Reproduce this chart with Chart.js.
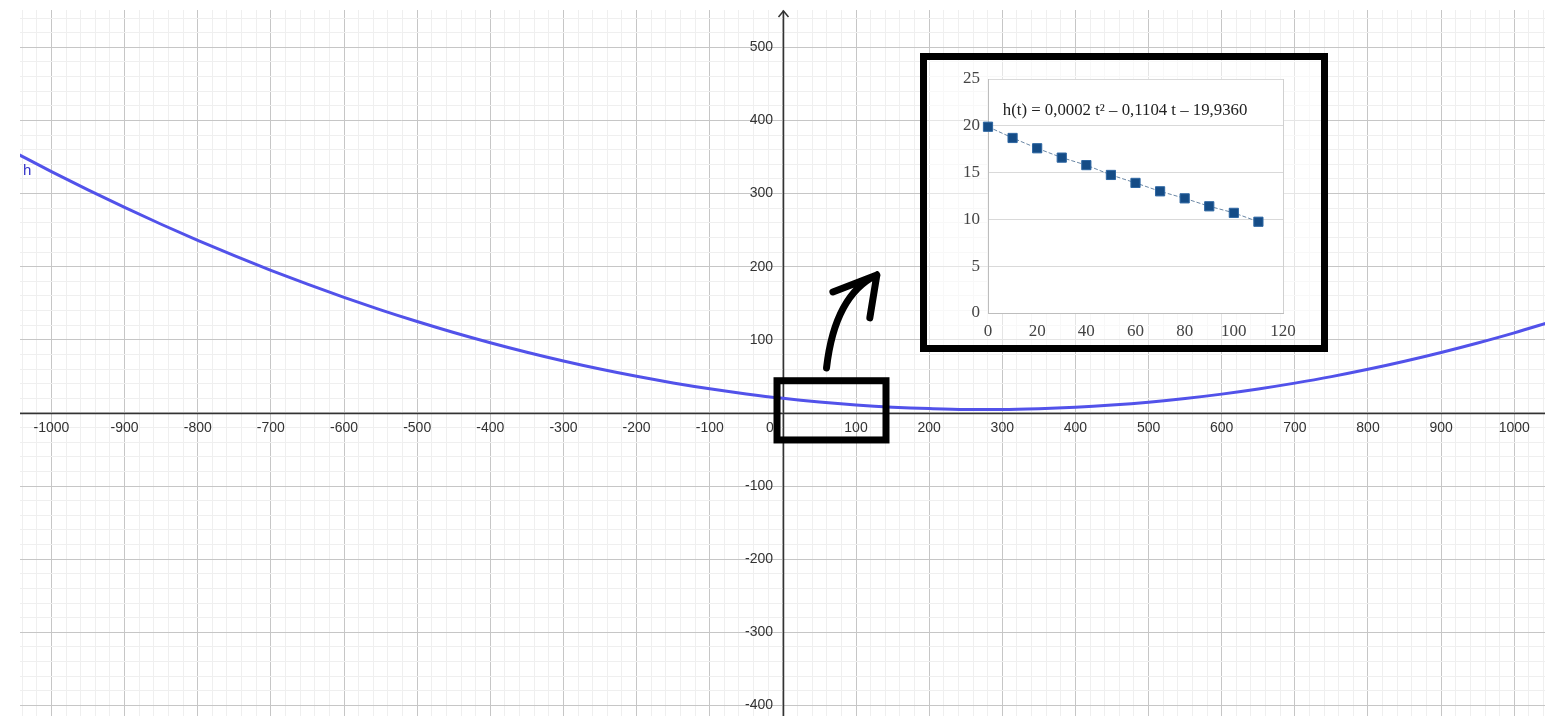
<!DOCTYPE html>
<html>
<head>
<meta charset="utf-8">
<script src="https://cdn.jsdelivr.net/npm/chart.js@4.4.1/dist/chart.umd.min.js"></script>
<style>
html, body { margin: 0; padding: 0; background: #fff; }
#wrap { position: relative; width: 1545px; height: 716px; }
canvas { display: block; }
#inset { position: absolute; left: 920px; top: 53px; width: 408px; height: 299px;
         border: 7px solid #000; box-sizing: border-box; background: rgba(255,255,255,0.55); }
</style>
</head>
<body>
<div id="wrap">
  <canvas id="mainChart" width="1545" height="716"></canvas>
  <div id="inset"><canvas id="insetChart" width="394" height="285"></canvas></div>
</div>
<script>
// big graph: h(t) every 50 units
const curveT = [-1050, -1000, -950, -900, -850, -800, -750, -700, -650, -600, -550, -500, -450, -400, -350, -300,
                -250, -200, -150, -100, -50, 0, 50, 100, 150, 200, 250, 300, 350, 400, 450, 500,
                550, 600, 650, 700, 750, 800, 850, 900, 950, 1000, 1050];
const curveH = [356, 330, 305, 281, 258, 236, 215, 195, 176, 158, 141, 125, 110, 96, 83, 71,
                60, 50, 41, 33, 26, 19.9, 14.9, 10.9, 7.9, 5.9, 4.8, 4.8, 5.8, 7.8, 10.8, 14.7,
                19.7, 25.7, 32.7, 40.7, 49.6, 59.6, 70.6, 82.6, 95.6, 109.5, 124.5];

// inset: measured points
const sampleT = [0, 10, 20, 30, 40, 50, 60, 70, 80, 90, 100, 110];
const sampleH = [19.9, 18.7, 17.6, 16.6, 15.8, 14.75, 13.9, 13.0, 12.25, 11.4, 10.7, 9.75];
const insetEquation = "h(t) = 0,0002 t\u00B2 \u2013 0,1104 t \u2013 19,9360";

const gridColor = c => c.tick.value % 100 === 0 ? '#c6c6c6' : '#efefef';
const tickLabel = v => (v % 100 === 0 && v !== 0) ? String(v) : '';
// y labels sit right-aligned on the axis; pad them off it with spaces
const yTickLabel = v => (v % 100 === 0 && v !== 0) ? String(v) + '\u2002\u2009' : '';
// axes sit inside the plot, so they should take no room
const noRoom = s => {
  s.paddingLeft = s.paddingRight = s.paddingTop = s.paddingBottom = 0;
  if (s.isHorizontal()) s.height = 0; else s.width = 0;
};

const geoExtras = {
  id: 'geoExtras',
  // the two axes, on top of the grid
  beforeDatasetsDraw(chart) {
    const { ctx, scales: { x, y }, chartArea: a } = chart;
    const ax = Math.round(x.getPixelForValue(0)) + 0.5;
    const ay = Math.round(y.getPixelForValue(0)) + 0.5;
    ctx.save();
    ctx.strokeStyle = '#333';
    ctx.lineWidth = 1.5;
    ctx.beginPath();
    ctx.moveTo(a.left, ay); ctx.lineTo(a.right, ay);
    ctx.moveTo(ax, a.top + 1); ctx.lineTo(ax, a.bottom);
    ctx.stroke();
    // arrow head on the vertical axis
    ctx.beginPath();
    ctx.moveTo(ax - 5, a.top + 7);
    ctx.lineTo(ax, a.top + 1);
    ctx.lineTo(ax + 5, a.top + 7);
    ctx.stroke();
    ctx.restore();
  },
  // zoom box, hand drawn arrow and labels, placed in data units
  afterDatasetsDraw(chart) {
    const { ctx, scales: { x, y }, chartArea } = chart;
    ctx.save();
    ctx.strokeStyle = '#000';
    ctx.lineWidth = 7;
    const bx0 = x.getPixelForValue(-8), bx1 = x.getPixelForValue(141);
    const by0 = y.getPixelForValue(44), by1 = y.getPixelForValue(-37);
    ctx.strokeRect(bx0, by0, bx1 - bx0, by1 - by0);
    ctx.lineCap = 'round';
    ctx.lineJoin = 'round';
    ctx.beginPath();
    ctx.moveTo(x.getPixelForValue(59.7), y.getPixelForValue(61.5));
    ctx.quadraticCurveTo(x.getPixelForValue(71.1), y.getPixelForValue(161.3),
                         x.getPixelForValue(128.5), y.getPixelForValue(188.7));
    ctx.moveTo(x.getPixelForValue(68.4), y.getPixelForValue(165.4));
    ctx.lineTo(x.getPixelForValue(128.5), y.getPixelForValue(188.7));
    ctx.lineTo(x.getPixelForValue(118.9), y.getPixelForValue(129.9));
    ctx.stroke();
    ctx.font = '14px "Liberation Sans", Arial, sans-serif';
    ctx.fillStyle = '#333';
    ctx.textAlign = 'center';
    ctx.textBaseline = 'middle';
    ctx.fillText('0', x.getPixelForValue(0) - 13, y.getPixelForValue(0) + 15);
    ctx.font = '15px "Liberation Sans", Arial, sans-serif';
    ctx.fillStyle = '#3535c8';
    ctx.textAlign = 'left';
    ctx.fillText('h', chartArea.left + 3, 171);
    ctx.restore();
  }
};

new Chart(document.getElementById('mainChart'), {
  type: 'line',
  data: {
    datasets: [{
      label: 'h',
      data: curveT.map((t, i) => ({ x: t, y: curveH[i] })),
      borderColor: '#5252ea',
      borderWidth: 3,
      pointRadius: 0,
      cubicInterpolationMode: 'monotone',
      fill: false
    }]
  },
  options: {
    responsive: false,
    animation: false,
    devicePixelRatio: 1,
    layout: { autoPadding: false, padding: { left: 20, top: 10, right: 0, bottom: 0 } },
    plugins: { legend: { display: false }, tooltip: { enabled: false } },
    scales: {
      x: {
        type: 'linear', position: { y: 0 }, min: -1043, max: 1042,
        ticks: { stepSize: 20, autoSkip: false, maxRotation: 0, minRotation: 0, includeBounds: false,
                 padding: 7, color: '#333', font: { family: 'Liberation Sans', size: 14 }, callback: tickLabel },
        grid: { drawTicks: false, color: gridColor },
        border: { display: false },
        afterFit: noRoom
      },
      y: {
        type: 'linear', position: { x: 0 }, min: -414.5, max: 551,
        ticks: { stepSize: 20, autoSkip: false, includeBounds: false,
                 padding: 8, color: '#333', font: { family: 'Liberation Sans', size: 14 }, callback: yTickLabel },
        grid: { drawTicks: false, color: gridColor },
        border: { display: false },
        afterFit: noRoom
      }
    }
  },
  plugins: [geoExtras]
});

const insetExtras = {
  id: 'insetExtras',
  beforeDraw(chart) {
    const { ctx, chartArea: a } = chart;
    ctx.save();
    ctx.fillStyle = '#fff';
    ctx.fillRect(a.left, a.top, a.right - a.left, a.bottom - a.top);
    ctx.restore();
  },
  afterDraw(chart) {
    const { ctx, scales: { x, y } } = chart;
    ctx.save();
    ctx.font = '16.8px "Liberation Serif", "Times New Roman", serif';
    ctx.fillStyle = '#222';
    ctx.textAlign = 'left';
    ctx.textBaseline = 'middle';
    ctx.fillText(insetEquation, x.getPixelForValue(6), y.getPixelForValue(21.6));
    ctx.restore();
  }
};

new Chart(document.getElementById('insetChart'), {
  type: 'line',
  data: {
    datasets: [{
      data: sampleT.map((t, i) => ({ x: t, y: sampleH[i] })),
      borderColor: '#6a87a5',
      borderWidth: 1,
      borderDash: [4, 2],
      pointStyle: 'rect',
      pointRadius: 6.5,
      pointBackgroundColor: '#154c86',
      pointBorderColor: '#2d66a2',
      pointBorderWidth: 1,
      tension: 0,
      clip: false,
      fill: false
    }]
  },
  options: {
    responsive: false,
    animation: false,
    devicePixelRatio: 1,
    layout: { padding: { left: 16, top: 19, right: 38, bottom: 0 } },
    plugins: { legend: { display: false }, tooltip: { enabled: false } },
    scales: {
      x: {
        type: 'linear', min: 0, max: 120,
        ticks: { stepSize: 20, maxRotation: 0, padding: 8, color: '#444',
                 font: { family: 'Liberation Serif', size: 17 } },
        grid: { drawTicks: false, color: c => c.tick.value === 120 ? '#d0d0d0' : 'rgba(0,0,0,0)' },
        border: { color: '#bdbdbd' },
        afterFit: s => { s.height = 32; }
      },
      y: {
        type: 'linear', min: 0, max: 25,
        ticks: { stepSize: 5, padding: 8, color: '#444',
                 font: { family: 'Liberation Serif', size: 17 } },
        grid: { drawTicks: false, color: '#d9d9d9' },
        border: { color: '#bdbdbd' },
        afterFit: s => { s.width = 45; }
      }
    }
  },
  plugins: [insetExtras]
});
</script>
</body>
</html>
